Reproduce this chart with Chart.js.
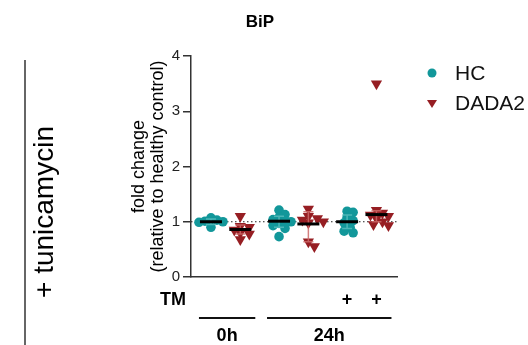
<!DOCTYPE html>
<html>
<head>
<meta charset="utf-8">
<script src="https://cdn.jsdelivr.net/npm/chart.js@4/dist/chart.umd.min.js"></script>
<style>
  body { margin: 0; background: #fff; }
  canvas { display: block; }
</style>
</head>
<body>
<canvas id="bipChart" width="528" height="345"></canvas>
<script>
// données
const series = ['HC', 'DADA2'];
const conditions = ['0h', '24h', '24h + TM'];
const tmLabels = ['', '', '+'];
const timeLabels = ['0h', '24h'];

const hc0h = [1.07, 1.03, 1.01, 1.0, 0.99, 0.9];
const hc24h = [1.21, 1.13, 1.08, 1.04, 1.02, 1.0, 0.97, 0.93, 0.88, 0.73];
const hcTM = [1.19, 1.17, 1.08, 1.02, 0.98, 0.9, 0.83, 0.8];
const dada0h = [1.1, 0.92, 0.9, 0.85, 0.8, 0.78, 0.68];
const dada24h = [1.23, 1.1, 1.06, 1.03, 1.0, 0.98, 0.64, 0.55];
const dadaTM = [3.5, 1.21, 1.16, 1.12, 1.1, 1.06, 1.0, 0.95, 0.93];

const hcCenter = [1.0, 1.01, 1.0];
const dadaCenter = [0.86, 0.96, 1.13];
const hcErrLow = [0.95, 0.9, 0.88];
const hcErrHigh = [1.05, 1.1, 1.12];
const dadaErrLow = [0.78, 0.64, 1.0];
const dadaErrHigh = [0.94, 1.18, 1.2];

const yTicks = [0, 1, 2, 3, 4];

// mise en page
const TEAL = '#12979a';
const RED = '#961e23';
const PAIR_GAP = 2.32;
const PX_X = 29.4, PX_Y = 55.4;
const FONT = '"Liberation Sans", Arial, Helvetica, sans-serif';

function slotX(cond, s) { return cond * PAIR_GAP + s; }

// petit beeswarm déterministe
function swarm(values, cx, minD) {
  const placed = [];
  return values.map(v => {
    const py = v * PX_Y;
    let off = 0;
    for (let k = 0; k < 40; k++) {
      off = (k % 2 ? 1 : -1) * Math.ceil(k / 2) * 3;
      if (placed.every(p => Math.hypot(p.x - off, p.y - py) >= minD)) break;
    }
    placed.push({ x: off, y: py });
    return { x: cx + off / PX_X, y: v };
  });
}

const hcGroups = [hc0h, hc24h, hcTM];
const dadaGroups = [dada0h, dada24h, dadaTM];
const hcPoints = hcGroups.flatMap((g, i) => swarm(g, slotX(i, 0), 6));
const dadaPoints = dadaGroups.flatMap((g, i) => swarm(g, slotX(i, 1), 6.5));

const extras = {
  id: 'extras',
  beforeDatasetsDraw(chart) {
    const { ctx, chartArea, scales } = chart;
    const y1 = scales.y.getPixelForValue(1);
    ctx.save();
    ctx.strokeStyle = '#222';
    ctx.lineWidth = 1.2;
    ctx.setLineDash([1.5, 2.5]);
    ctx.beginPath();
    ctx.moveTo(chartArea.left, y1);
    ctx.lineTo(chartArea.right, y1);
    ctx.stroke();
    ctx.restore();
  },
  afterDatasetsDraw(chart) {
    const { ctx, scales } = chart;
    const x = scales.x, y = scales.y;
    ctx.save();
    // barres d'erreur
    const drawErr = (lo, hi, s, color) => {
      lo.forEach((l, i) => {
        const px = x.getPixelForValue(slotX(i, s));
        const a = y.getPixelForValue(l), b = y.getPixelForValue(hi[i]);
        ctx.strokeStyle = color;
        ctx.lineWidth = 1.5;
        ctx.beginPath();
        ctx.moveTo(px, a); ctx.lineTo(px, b);
        ctx.moveTo(px - 5, a); ctx.lineTo(px + 5, a);
        ctx.moveTo(px - 5, b); ctx.lineTo(px + 5, b);
        ctx.stroke();
      });
    };
    drawErr(hcErrLow, hcErrHigh, 0, 'rgba(90,190,190,0.8)');
    drawErr(dadaErrLow, dadaErrHigh, 1, 'rgba(205,105,105,0.85)');
    // lignes centrales
    const drawCenter = (vals, s) => {
      vals.forEach((v, i) => {
        const px = x.getPixelForValue(slotX(i, s));
        const py = y.getPixelForValue(v);
        ctx.strokeStyle = '#000';
        ctx.lineWidth = 3;
        ctx.beginPath();
        ctx.moveTo(px - 11, py); ctx.lineTo(px + 11, py);
        ctx.stroke();
      });
    };
    drawCenter(hcCenter, 0);
    drawCenter(dadaCenter, 1);
    ctx.restore();
  },
  afterDraw(chart) {
    const { ctx, chartArea, scales } = chart;
    const x = scales.x;
    ctx.save();
    ctx.fillStyle = '#000';
    ctx.textAlign = 'center';
    ctx.textBaseline = 'middle';

    // titre
    ctx.font = 'bold 17px ' + FONT;
    ctx.fillText('BiP', 260, 22);

    // titre de l'axe y
    const midY = (chartArea.top + chartArea.bottom) / 2;
    ctx.font = '18px ' + FONT;
    ctx.save();
    ctx.translate(139, midY);
    ctx.rotate(-Math.PI / 2);
    ctx.fillText('fold change', 0, 0);
    ctx.restore();
    ctx.save();
    ctx.translate(158, midY);
    ctx.rotate(-Math.PI / 2);
    ctx.fillText('(relative to healthy control)', 0, 0);
    ctx.restore();

    // + tunicamycin et trait vertical
    ctx.save();
    ctx.translate(45, 212);
    ctx.rotate(-Math.PI / 2);
    ctx.font = '28px ' + FONT;
    ctx.fillText('+ tunicamycin', 0, 0);
    ctx.restore();
    ctx.strokeStyle = '#333';
    ctx.lineWidth = 1.5;
    ctx.beginPath();
    ctx.moveTo(25, 60); ctx.lineTo(25, 345);
    ctx.stroke();

    // ligne TM
    ctx.font = 'bold 18px ' + FONT;
    ctx.textAlign = 'left';
    ctx.fillText('TM', 160, 300);
    ctx.textAlign = 'center';
    conditions.forEach((c, i) => {
      if (!tmLabels[i]) return;
      series.forEach((s, j) => {
        ctx.fillText(tmLabels[i], x.getPixelForValue(slotX(i, j)), 300);
      });
    });

    // accolades de temps
    ctx.strokeStyle = '#111';
    ctx.lineWidth = 2;
    const spans = [[slotX(0, 0), slotX(0, 1)], [slotX(1, 0), slotX(2, 1)]];
    spans.forEach((sp, i) => {
      const a = x.getPixelForValue(sp[0]) - 12;
      const b = x.getPixelForValue(sp[1]) + 15;
      ctx.beginPath();
      ctx.moveTo(a, 318); ctx.lineTo(b, 318);
      ctx.stroke();
      ctx.fillText(timeLabels[i], (a + b) / 2, 336);
    });

    // légende
    ctx.font = '21px ' + FONT;
    ctx.textAlign = 'left';
    ctx.fillStyle = TEAL;
    ctx.beginPath();
    ctx.arc(432, 73, 4.5, 0, Math.PI * 2);
    ctx.fill();
    ctx.fillStyle = RED;
    ctx.beginPath();
    ctx.moveTo(427, 100); ctx.lineTo(437, 100); ctx.lineTo(432, 108);
    ctx.closePath();
    ctx.fill();
    ctx.fillStyle = '#111';
    ctx.fillText(series[0], 455, 74);
    ctx.fillText(series[1], 455, 104);
    ctx.restore();
  }
};

new Chart(document.getElementById('bipChart').getContext('2d'), {
  type: 'scatter',
  data: {
    datasets: [
      {
        label: series[0],
        data: hcPoints,
        pointStyle: 'circle',
        pointRadius: 4.8,
        backgroundColor: TEAL,
        borderColor: TEAL,
        borderWidth: 0
      },
      {
        label: series[1],
        data: dadaPoints,
        pointStyle: 'triangle',
        pointRotation: 180,
        pointRadius: 6.5,
        backgroundColor: RED,
        borderColor: RED,
        borderWidth: 0
      }
    ]
  },
  options: {
    responsive: false,
    animation: false,
    layout: { padding: { left: 161, right: 131, top: 56, bottom: 68 } },
    plugins: { legend: { display: false }, tooltip: { enabled: false } },
    scales: {
      x: {
        type: 'linear',
        min: -0.68,
        max: 6.34,
        grid: { display: false },
        ticks: { display: false },
        border: { color: '#333', width: 1.5 },
        afterFit: s => { s.height = 0; }
      },
      y: {
        min: 0,
        max: 4,
        afterBuildTicks: s => { s.ticks = yTicks.map(v => ({ value: v })); },
        ticks: { color: '#222', font: { size: 15, family: FONT }, padding: 3 },
        grid: { drawOnChartArea: false, tickLength: 8, color: '#333', lineWidth: 1.5 },
        border: { color: '#333', width: 1.5 },
        afterFit: s => { s.width = 30; }
      }
    }
  },
  plugins: [extras]
});
</script>
</body>
</html>
